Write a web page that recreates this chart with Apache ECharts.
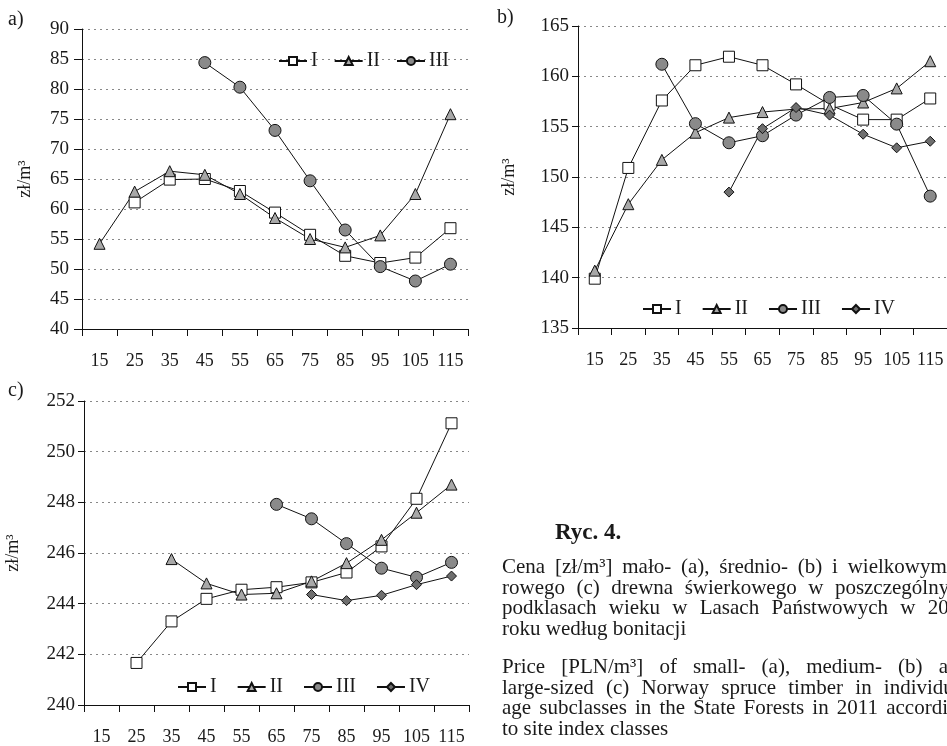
<!DOCTYPE html>
<html>
<head>
<meta charset="utf-8">
<script src="https://cdn.jsdelivr.net/npm/echarts@6/dist/echarts.min.js"></script>
<style>
  html, body { margin: 0; padding: 0; background: #fff; overflow: hidden; }
  #main { width: 947px; height: 746px; position: absolute; left: 0; top: 0; }
  .caption { position: absolute; left: 502px; width: 467px; font-family: "Liberation Serif", serif; font-size: 21px; color: #1a1a1a; line-height: 20.7px; }
  .j { text-align: justify; text-align-last: justify; white-space: nowrap; }
  .title { position: absolute; left: 555px; top: 519px; font-family: "Liberation Serif", serif; font-size: 23px; font-weight: bold; color: #1a1a1a; }
</style>
</head>
<body>
<div id="main"></div>
<div class="title">Ryc. 4.</div>
<div class="caption" style="top: 556px;">
  <div class="j">Cena [zł/m³] mało- (a), średnio- (b) i wielkowymia-</div>
  <div class="j">rowego (c) drewna świerkowego w poszczególnych</div>
  <div class="j">podklasach wieku w Lasach Państwowych w 2011</div>
  <div>roku według bonitacji</div>
</div>
<div class="caption" style="top: 656px;">
  <div class="j">Price [PLN/m³] of small- (a), medium- (b) and</div>
  <div class="j">large-sized (c) Norway spruce timber in individual</div>
  <div class="j">age subclasses in the State Forests in 2011 according</div>
  <div>to site index classes</div>
</div>
<script>
// age subclasses (x axis)
var ages = ['15', '25', '35', '45', '55', '65', '75', '85', '95', '105', '115'];

// a) small-sized
var aI   = [null, 61.1, 64.9, 65.0, 63.0, 59.4, 55.7, 52.2, 51.0, 51.9, 56.8];
var aII  = [54.2, 62.9, 66.3, 65.7, 62.5, 58.5, 55.0, 53.6, 55.6, 62.5, 75.8];
var aIII = [null, null, null, 84.4, 80.3, 73.1, 64.7, 56.5, 50.4, 48.0, 50.8];

// b) medium-sized
var bI   = [139.9, 150.9, 157.6, 161.1, 161.95, 161.1, 159.2, 157.2, 155.7, 155.7, 157.8];
var bII  = [140.7, 147.3, 151.7, 154.4, 155.9, 156.45, 156.75, 156.8, 157.4, 158.8, 161.5];
var bIII = [null, null, 161.2, 155.3, 153.4, 154.1, 156.15, 157.9, 158.1, 155.25, 148.1];
var bIV  = [null, null, null, null, 148.5, 154.8, 156.9, 156.15, 154.25, 152.9, 153.55];

// c) large-sized
var cI   = [null, 241.66, 243.3, 244.19, 244.55, 244.65, 244.84, 245.23, 246.26, 248.14, 251.12];
var cII  = [null, null, 245.76, 244.8, 244.36, 244.41, 244.88, 245.6, 246.52, 247.59, 248.7];
var cIII = [null, null, null, null, null, 247.92, 247.35, 246.37, 245.4, 245.04, 245.63];
var cIV  = [null, null, null, null, null, null, 244.36, 244.12, 244.33, 244.75, 245.09];

var FONT = 'Liberation Serif';
var TXT = '#1a1a1a';

var styles = {
  I:   { symbol: 'rect', symbolSize: 11, itemStyle: { color: '#fff', borderColor: '#111', borderWidth: 1 } },
  II:  { symbol: 'triangle', symbolSize: 11, itemStyle: { color: '#a8a8a8', borderColor: '#111', borderWidth: 1 } },
  III: { symbol: 'circle', symbolSize: 12, itemStyle: { color: '#8a8a8a', borderColor: '#111', borderWidth: 1 } },
  IV:  { symbol: 'diamond', symbolSize: 10, itemStyle: { color: '#6e6e6e', borderColor: '#111', borderWidth: 1 } }
};

function mkSeries(name, data, idx) {
  var s = styles[name];
  return {
    name: name, type: 'line', data: data,
    xAxisIndex: idx, yAxisIndex: idx,
    symbol: s.symbol, symbolSize: s.symbolSize, showAllSymbol: true,
    itemStyle: s.itemStyle,
    lineStyle: { color: '#111', width: 1 },
    z: 3
  };
}

function mkX(idx) {
  return {
    type: 'category', gridIndex: idx, data: ages, boundaryGap: true,
    axisLine: { lineStyle: { color: '#111', width: 1 } },
    axisTick: { show: true, length: 7, interval: 0, lineStyle: { color: '#111' } },
    axisLabel: { color: TXT, fontFamily: FONT, fontSize: 18, margin: 23, interval: 0, hideOverlap: false }
  };
}

function mkY(idx, min, max, step, gap, tick, margin) {
  return {
    type: 'value', gridIndex: idx, min: min, max: max, interval: step,
    name: 'zł/m³', nameLocation: 'middle', nameRotate: 90, nameGap: gap,
    nameTextStyle: { color: TXT, fontFamily: FONT, fontSize: 18 },
    axisLine: { show: true, lineStyle: { color: '#111', width: 1 } },
    axisTick: { show: true, length: tick, lineStyle: { color: '#111' } },
    axisLabel: { color: TXT, fontFamily: FONT, fontSize: 19, margin: margin },
    splitLine: { show: true, lineStyle: { color: '#888', type: [2, 4], width: 1 } }
  };
}

function mkLegend(names, left, top, gap) {
  return {
    data: names, left: left, top: top, orient: 'horizontal',
    itemWidth: 28, itemHeight: 10, itemGap: gap,
    textStyle: { color: TXT, fontFamily: FONT, fontSize: 20, padding: [0, 0, 0, -1] }
  };
}

var chart = echarts.init(document.getElementById('main'));

var option = {
  animation: false,
  backgroundColor: '#fff',
  grid: [
    { left: 82, top: 29, width: 386, height: 300 },
    { left: 578, top: 26, width: 372, height: 302 },
    { left: 84, top: 401, width: 385, height: 306 }
  ],
  xAxis: [mkX(0), mkX(1), mkX(2)],
  yAxis: [
    mkY(0, 40, 90, 5, 48, 8, 13),
    mkY(1, 135, 165, 5, 60, 6, 9),
    mkY(2, 240, 252, 2, 62, 6, 9)
  ],
  legend: [
    mkLegend(['I', 'II', 'III'], 273, 46, 16),
    mkLegend(['I', 'II', 'III', 'IV'], 637, 294, 20),
    mkLegend(['I', 'II', 'III', 'IV'], 172, 672, 20)
  ],
  graphic: [
    { type: 'text', left: 8, top: 10, style: { text: 'a)', font: '20px "Liberation Serif"', fill: TXT } },
    { type: 'text', left: 497, top: 8, style: { text: 'b)', font: '20px "Liberation Serif"', fill: TXT } },
    { type: 'text', left: 8, top: 381, style: { text: 'c)', font: '20px "Liberation Serif"', fill: TXT } }
  ],
  series: [
    mkSeries('I', aI, 0), mkSeries('II', aII, 0), mkSeries('III', aIII, 0),
    mkSeries('I', bI, 1), mkSeries('II', bII, 1), mkSeries('III', bIII, 1), mkSeries('IV', bIV, 1),
    mkSeries('I', cI, 2), mkSeries('II', cII, 2), mkSeries('III', cIII, 2), mkSeries('IV', cIV, 2)
  ]
};

chart.setOption(option);
</script>
</body>
</html>
